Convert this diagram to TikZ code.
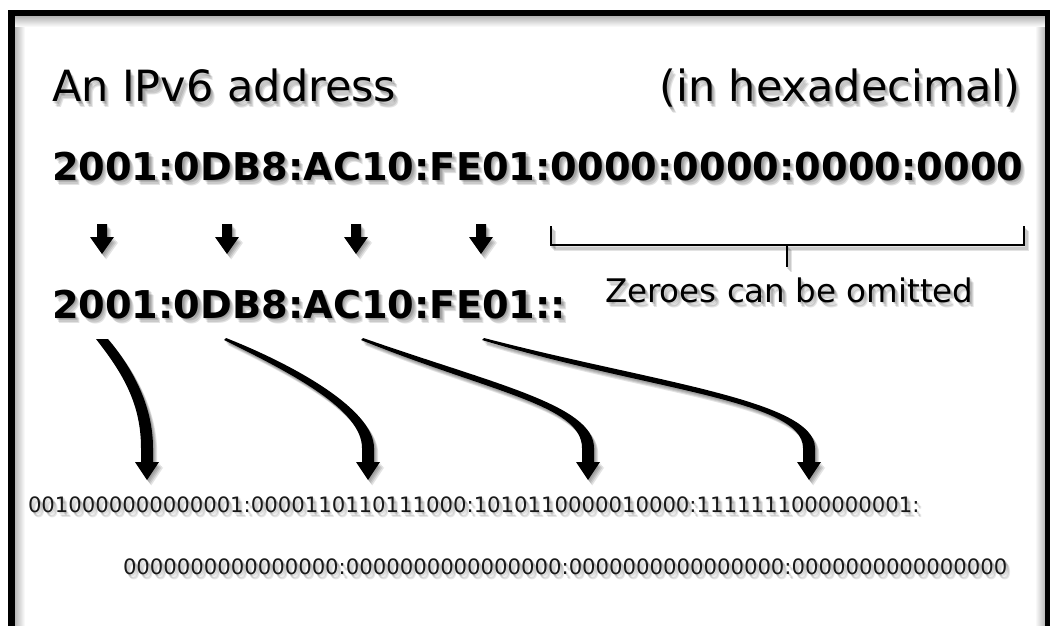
\documentclass[tikz,border=0pt]{standalone}
\usepackage{fontspec}
\setmainfont{DejaVu Sans}
\tikzset{
  lbl/.style={inner sep=0pt, outer sep=0pt, text=black},
  titlefont/.style={font=\fontsize{43}{50}\selectfont},
  hexfont/.style={font=\fontsize{38.3}{44}\selectfont\bfseries},
  notefont/.style={font=\fontsize{32.5}{38}\selectfont},
  binfont/.style={font=\fontsize{21.2}{25}\selectfont, text=black!90},
  shadowstep/.style={opacity=0.11, text opacity=0.11},
  framebar/.style={fill=black, draw=none},
  bracketline/.style={draw=black, line width=2pt},
  arrowfill/.style={fill=black, draw=none},
}
% text with a soft drop shadow: #1 name, #2 options, #3 position, #4 text
\newcommand\softtext[4]{%
  \foreach \d in {1.2,2.2,3.2,4.2}{\node[lbl,#2,shadowstep,shift={(\d,1.3*\d)}] at #3 {#4};}
  \node[lbl,#2] (#1) at #3 {#4};}
% tapered curved arrows (y axis points down)
\def\arrowA{(96,339) .. controls (124,374.5) and (141,405) .. (141,448) -- (141,462) -- (135,462) -- (147,480) -- (159,462) -- (153,462) -- (153,448) .. controls (153,405) and (132,367.5) .. (108,339) -- cycle}
\def\arrowB{(224,340) .. controls (293.2,374) and (362,410) .. (362,448) -- (362,462) -- (356,462) -- (368,480) -- (380,462) -- (374,462) -- (374,448) .. controls (374,410) and (296.8,366) .. (226,338) -- cycle}
\def\arrowC{(361,340) .. controls (490.4,392.2) and (582,405) .. (582,448) -- (582,462) -- (576,462) -- (588,480) -- (600,462) -- (594,462) -- (594,448) .. controls (594,405) and (493.6,383.8) .. (363,338) -- cycle}
\def\arrowD{(482,340) .. controls (648.8,390.3) and (803,400) .. (803,448) -- (803,462) -- (797,462) -- (809,480) -- (821,462) -- (815,462) -- (815,448) .. controls (815,400) and (651.2,381.7) .. (484,338) -- cycle}
\newcommand\shortarrow[1]{(#1-5,224) -- (#1+5,224) -- (#1+5,237) -- (#1+12,237) -- (#1,254) -- (#1-12,237) -- (#1-5,237) -- cycle}
\begin{document}
\begin{tikzpicture}[x=1pt,y=-1pt]
\useasboundingbox (0,0) rectangle (1050,626);
\fill[white] (0,0) rectangle (1050,626);
% frame with inner shadow
\shade[left color=black!28, right color=white] (15,16) rectangle (25,626);
\shade[left color=white, right color=black!28] (1035,16) rectangle (1045,626);
\shade[top color=black!28, bottom color=white] (15,16.5) rectangle (1045,27);
\fill[framebar] (8,10) rectangle (1050,16.5);
\fill[framebar] (8,10) rectangle (15,626);
\fill[framebar] (1045,10) rectangle (1050,626);

% soft shadows of arrows and bracket
\foreach \d in {1.2,2.2,3.2,4.2}{
  \fill[black, shadowstep, shift={(\d,1.3*\d)}] \arrowA;
  \fill[black, shadowstep, shift={(\d,1.3*\d)}] \arrowB;
  \fill[black, shadowstep, shift={(\d,1.3*\d)}] \arrowC;
  \fill[black, shadowstep, shift={(\d,1.3*\d)}] \arrowD;
  \foreach \c in {102,227,356,481}{\fill[black, shadowstep, shift={(\d,1.3*\d)}] \shortarrow{\c};}
  \draw[bracketline, shadowstep, shift={(\d,1.3*\d)}] (551,226) -- (551,245) -- (1024,245) -- (1024,226);
  \draw[bracketline, shadowstep, shift={(\d,1.3*\d)}] (787,245) -- (787,267);
}

% texts
\softtext{title}{titlefont, anchor=base west}{(52,102)}{An IPv6 address}
\softtext{hexnote}{titlefont, anchor=base east}{(1020,102)}{(in hexadecimal)}
\softtext{full}{hexfont, anchor=base west}{(52,180)}{2001:0DB8:AC10:FE01:0000:0000:0000:0000}
\softtext{short}{hexfont, anchor=base west}{(52,318)}{2001:0DB8:AC10:FE01::}
\softtext{omit}{notefont, anchor=base west}{(605,302)}{Zeroes can be omitted}
\softtext{binA}{binfont, anchor=base west}{(28,512)}{0010000000000001:0000110110111000:1010110000010000:1111111000000001:}
\softtext{binB}{binfont, anchor=base west}{(123,574)}{0000000000000000:0000000000000000:0000000000000000:0000000000000000}

% short down arrows
\foreach \c in {102,227,356,481}{\fill[arrowfill] \shortarrow{\c};}

% bracket over the zero groups
\coordinate (brL) at (551,226);
\coordinate (brR) at (1024,226);
\coordinate (brM) at (787,245);
\coordinate (brT) at (787,267);
\draw[bracketline] (brL) -- (brL |- brM) -- (brR |- brM) -- (brR);
\draw[bracketline] (brM) -- (brT);

% curved arrows to the binary form
\fill[arrowfill] \arrowA;
\fill[arrowfill] \arrowB;
\fill[arrowfill] \arrowC;
\fill[arrowfill] \arrowD;
\end{tikzpicture}
\end{document}
